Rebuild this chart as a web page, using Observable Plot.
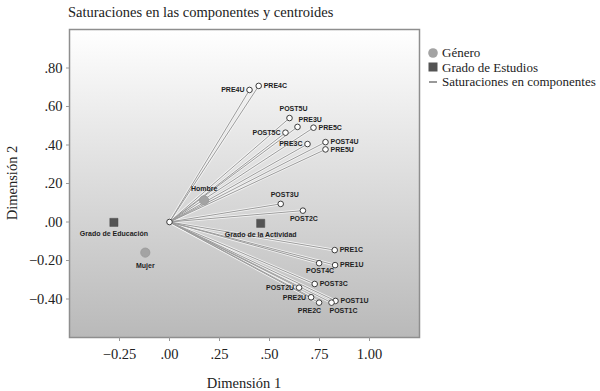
<!DOCTYPE html>
<html><head><meta charset="utf-8">
<script src="https://cdn.jsdelivr.net/npm/d3@7"></script>
<script src="https://cdn.jsdelivr.net/npm/@observablehq/plot@0.6"></script>
<style>
body{margin:0;background:#fff;}
#wrap{position:relative;width:600px;height:391px;font-family:"Liberation Serif",serif;color:#222;overflow:hidden;}
#chart{position:absolute;left:0;top:0;}
.title{position:absolute;left:68px;top:3px;font-size:14.5px;line-height:18px;white-space:nowrap;}
.xlab{position:absolute;left:144px;width:200px;text-align:center;top:374px;font-size:14.5px;line-height:18px;}
.ylab{position:absolute;left:12px;top:183px;font-size:14.5px;line-height:18px;white-space:nowrap;transform:translate(-50%,-50%) rotate(-90deg);}
.leg{position:absolute;left:428px;font-size:13px;line-height:14px;white-space:nowrap;}
</style></head><body>
<div id="wrap"><div id="chart"></div>
<div class="title">Saturaciones en las componentes y centroides</div>
<div class="xlab">Dimensión 1</div>
<div class="ylab">Dimensión 2</div>
<div id="legend"></div>
</div>
<script>
// Component loadings
const loadingNames = ["PRE4U","PRE4C","POST5U","PRE3U","PRE5C","POST5C","PRE3C","POST4U","PRE5U","POST3U","POST2C","PRE1C","POST4C","PRE1U","POST3C","POST2U","PRE2U","PRE2C","POST1U","POST1C"];
const loadingX = [0.40,0.446,0.60,0.64,0.72,0.58,0.69,0.78,0.78,0.556,0.667,0.826,0.748,0.828,0.726,0.648,0.708,0.748,0.83,0.81];
const loadingY = [0.686,0.707,0.54,0.494,0.49,0.464,0.405,0.415,0.377,0.094,0.059,-0.146,-0.214,-0.224,-0.322,-0.341,-0.391,-0.419,-0.41,-0.419];
const loadingSide = ["l","r","t","tr","r","l","l","r","r","t","b","r","b","r","r","l","l","bl","r","br"];

// Centroids: Género
const generoNames = ["Hombre","Mujer"];
const generoX = [0.173,-0.121];
const generoY = [0.113,-0.159];
const generoSide = ["t","b"];

// Centroids: Grado de Estudios
const estudiosNames = ["Grado de Educación","Grado de la Actividad"];
const estudiosX = [-0.278,0.456];
const estudiosY = [-0.002,-0.007];

const xTicks = [-0.25,0,0.25,0.5,0.75,1];
const yTicks = [-0.4,-0.2,0,0.2,0.4,0.6,0.8];
const legendLabels = ["Género","Grado de Estudios","Saturaciones en componentes"];

const loadings = loadingNames.map((n,i)=>({name:n,x:loadingX[i],y:loadingY[i],side:loadingSide[i]}));
const genero = generoNames.map((n,i)=>({name:n,x:generoX[i],y:generoY[i],side:generoSide[i]}));
const estudios = estudiosNames.map((n,i)=>({name:n,x:estudiosX[i],y:estudiosY[i]}));
const origin = [{x:0,y:0}];

const fmt = v => d3.format(".2f")(v).replace(/^(-?)0\./,"$1.");

const sides = {
  l:{textAnchor:"end",dx:-5,dy:0},
  r:{textAnchor:"start",dx:5,dy:0},
  t:{textAnchor:"middle",dx:4,dy:-9},
  b:{textAnchor:"middle",dx:1,dy:8},
  tr:{textAnchor:"start",dx:1,dy:-7},
  bl:{textAnchor:"end",dx:2,dy:8},
  br:{textAnchor:"start",dx:-2,dy:8}
};
const labelFont = {fontFamily:"Liberation Sans, Arial, sans-serif",fontWeight:"bold",fontSize:7,fill:"#1e1e1e"};
const loadingLabelMarks = Object.entries(sides).map(([k,s]) =>
  Plot.text(loadings.filter(d=>d.side===k), {x:"x",y:"y",text:"name",...s,...labelFont}));

const defs = () => {
  const d = d3.create("svg:defs");
  const g = d.append("linearGradient").attr("id","bgGrad").attr("x1",0).attr("y1",0).attr("x2",0).attr("y2",1);
  g.append("stop").attr("offset","0%").attr("stop-color","#ffffff");
  g.append("stop").attr("offset","100%").attr("stop-color","#b9b9b9");
  return d.node();
};

const plot = Plot.plot({
  width:600, height:391,
  marginLeft:69, marginRight:181, marginTop:29, marginBottom:54,
  style:{fontFamily:"Liberation Serif, serif",background:"transparent",color:"#222"},
  x:{domain:[-0.5,1.25]},
  y:{domain:[-0.6,1.0]},
  marks:[
    defs,
    Plot.frame({fill:"url(#bgGrad)",stroke:"#8e8e8e",strokeWidth:1.5}),
    Plot.axisX({ticks:xTicks,tickFormat:fmt,tickSize:4,tickPadding:7,fontSize:14.5,fontFamily:"Liberation Serif, serif",label:null,stroke:"#999",fill:"#222"}),
    Plot.axisY({ticks:yTicks,tickFormat:fmt,tickSize:3,tickPadding:4,fontSize:14.5,fontFamily:"Liberation Serif, serif",label:null,stroke:"#999",fill:"#222"}),
    Plot.link(loadings,{x1:d=>0,y1:d=>0,x2:"x",y2:"y",stroke:"#f4f4f4",strokeWidth:2.6}),
    Plot.link(loadings,{x1:d=>0,y1:d=>0,x2:"x",y2:"y",stroke:"#9c9c9c",strokeWidth:1}),
    Plot.dot(genero,{x:"x",y:"y",r:4.6,fill:"#a3a3a3",stroke:"#989898",strokeWidth:0.8}),
    Plot.dot(estudios,{x:"x",y:"y",symbol:"square",r:4.6,fill:"#545454",stroke:"#4a4a4a",strokeWidth:0.5}),
    Plot.dot(loadings,{x:"x",y:"y",r:2.8,fill:"#fff",stroke:"#3c3c3c",strokeWidth:1}),
    Plot.dot(origin,{x:"x",y:"y",r:2.8,fill:"#fff",stroke:"#3c3c3c",strokeWidth:1}),
    ...loadingLabelMarks,
    Plot.text(genero.filter(d=>d.side==="t"),{x:"x",y:"y",text:"name",dy:-11,...labelFont}),
    Plot.text(genero.filter(d=>d.side==="b"),{x:"x",y:"y",text:"name",dy:13,...labelFont}),
    Plot.text(estudios,{x:"x",y:"y",text:"name",dy:11,...labelFont})
  ]
});
document.getElementById("chart").appendChild(plot);

// Legend
const legSyms = [
  '<svg width="10" height="10"><circle cx="5" cy="5" r="4.8" fill="#a3a3a3"/></svg>',
  '<svg width="10" height="10"><rect x="0.5" y="0.5" width="9" height="9" fill="#545454"/></svg>',
  '<svg width="10" height="10"><line x1="1" x2="9" y1="5" y2="5" stroke="#555" stroke-width="1.2"/></svg>'
];
const legCenters = [53,67.5,82];
const legend = document.getElementById("legend");
legendLabels.forEach((t,i)=>{
  const div = document.createElement("div");
  div.className = "leg";
  div.style.top = (legCenters[i] - 7) + "px";
  div.innerHTML = legSyms[i].replace('<svg ','<svg style="display:inline-block;vertical-align:middle;margin-right:4px;margin-top:-3px" ') + t;
  legend.appendChild(div);
});
</script>
</body></html>
